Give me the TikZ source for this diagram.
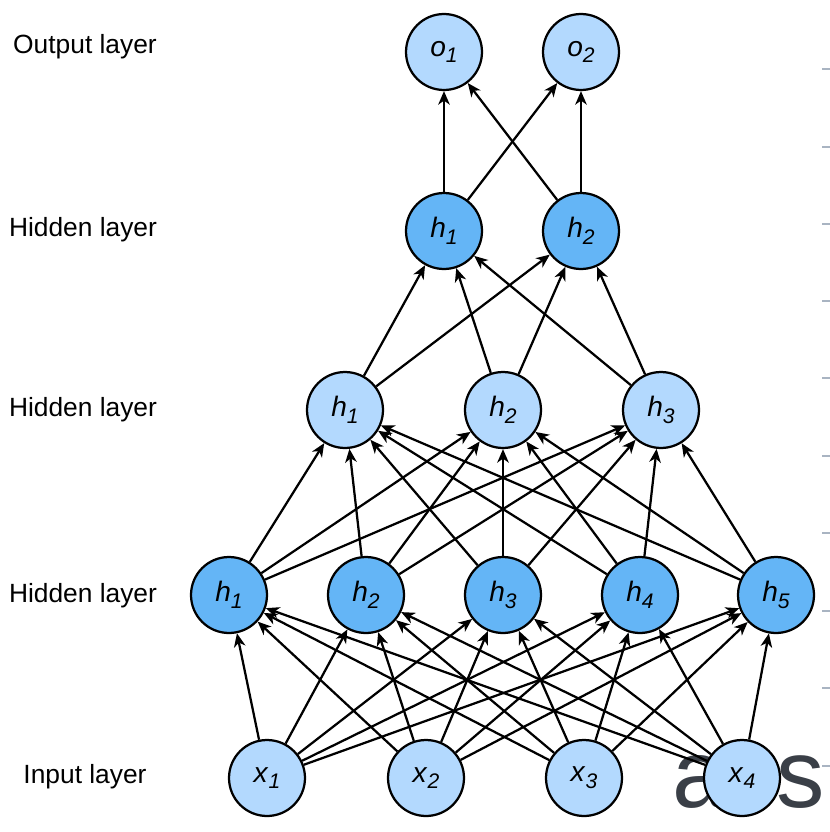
\documentclass[tikz,border=0pt]{standalone}
\usepackage{fontspec}
\setmainfont{Liberation Sans}
\usetikzlibrary{arrows.meta}
\definecolor{nodelight}{HTML}{B3D9FE}
\definecolor{nodedark}{HTML}{64B5F6}
\definecolor{awsgray}{HTML}{3A3F47}
\definecolor{tickgray}{HTML}{A9B4C2}
\newcommand{\nlab}[2]{\textit{#1}\raisebox{-0.45ex}{\fontsize{12}{13}\selectfont\textit{#2}}}
\tikzset{
	neuron/.style={circle, draw, line width=0.45mm, fill=nodelight, minimum size=1.52cm, inner sep=0pt, font=\fontsize{16}{18}\selectfont},
	darkneuron/.style={neuron, fill=nodedark},
	conn/.style={line width=0.45mm, -{Stealth[length=2.7mm,width=2.3mm,inset=0.8mm]}},
	layername/.style={font=\fontsize{15}{18}\selectfont}
}

\begin{document}
\begin{tikzpicture}[x=0.02cm, y=-0.02cm]
			%%%%% START %%%%%
			
			\useasboundingbox (0, 0) rectangle (830, 832);
			
			\node[font=\fontsize{55}{55}\selectfont, color=awsgray, anchor=base] (wa) at (699, 807) {a};
			\node[font=\fontsize{55}{55}\selectfont, color=awsgray, anchor=base] (ws) at (801, 807) {s};
			
			\draw[line width=0.3mm, color=tickgray] (822, 69) -- (830, 69);
			\draw[line width=0.3mm, color=tickgray] (822, 147) -- (830, 147);
			\draw[line width=0.3mm, color=tickgray] (822, 224) -- (830, 224);
			\draw[line width=0.3mm, color=tickgray] (822, 301) -- (830, 301);
			\draw[line width=0.3mm, color=tickgray] (822, 378) -- (830, 378);
			\draw[line width=0.3mm, color=tickgray] (822, 456) -- (830, 456);
			\draw[line width=0.3mm, color=tickgray] (822, 533) -- (830, 533);
			\draw[line width=0.3mm, color=tickgray] (822, 611) -- (830, 611);
			\draw[line width=0.3mm, color=tickgray] (822, 688) -- (830, 688);
			\draw[line width=0.3mm, color=tickgray] (822, 766) -- (830, 766);
			
			\node[layername] (outname) at (85, 47) {Output layer};
			\node[layername] (hidname3) at (83, 230) {Hidden layer};
			\node[layername] (hidname2) at (83, 410) {Hidden layer};
			\node[layername] (hidname1) at (83, 596) {Hidden layer};
			\node[layername] (inname) at (85, 777) {Input layer};
			
			\node[neuron] (o1) at (444, 52) {\nlab{o}{1}};
			\node[neuron] (o2) at (581, 52) {\nlab{o}{2}};
			
			\node[darkneuron] (c1) at (444, 231) {\nlab{h}{1}};
			\node[darkneuron] (c2) at (581, 231) {\nlab{h}{2}};
			
			\node[neuron] (b1) at (345, 410) {\nlab{h}{1}};
			\node[neuron] (b2) at (503, 410) {\nlab{h}{2}};
			\node[neuron] (b3) at (661, 410) {\nlab{h}{3}};
			
			\node[darkneuron] (a1) at (229, 595) {\nlab{h}{1}};
			\node[darkneuron] (a2) at (366, 595) {\nlab{h}{2}};
			\node[darkneuron] (a3) at (503, 595) {\nlab{h}{3}};
			\node[darkneuron] (a4) at (640, 595) {\nlab{h}{4}};
			\node[darkneuron] (a5) at (776, 595) {\nlab{h}{5}};
			
			\node[neuron] (x1) at (267, 778) {\nlab{x}{1}};
			\node[neuron] (x2) at (426, 778) {\nlab{x}{2}};
			\node[neuron] (x3) at (584, 778) {\nlab{x}{3}};
			\node[neuron] (x4) at (742, 778) {\nlab{x}{4}};
			
			% input -> first hidden
			\draw[conn] (x1) -- (a1);
			\draw[conn] (x1) -- (a2);
			\draw[conn] (x1) -- (a3);
			\draw[conn] (x1) -- (a4);
			\draw[conn] (x1) -- (a5);
			\draw[conn] (x2) -- (a1);
			\draw[conn] (x2) -- (a2);
			\draw[conn] (x2) -- (a3);
			\draw[conn] (x2) -- (a4);
			\draw[conn] (x2) -- (a5);
			\draw[conn] (x3) -- (a1);
			\draw[conn] (x3) -- (a2);
			\draw[conn] (x3) -- (a3);
			\draw[conn] (x3) -- (a4);
			\draw[conn] (x3) -- (a5);
			\draw[conn] (x4) -- (a1);
			\draw[conn] (x4) -- (a2);
			\draw[conn] (x4) -- (a3);
			\draw[conn] (x4) -- (a4);
			\draw[conn] (x4) -- (a5);
			
			% first hidden -> second hidden
			\draw[conn] (a1) -- (b1);
			\draw[conn] (a1) -- (b2);
			\draw[conn] (a1) -- (b3);
			\draw[conn] (a2) -- (b1);
			\draw[conn] (a2) -- (b2);
			\draw[conn] (a2) -- (b3);
			\draw[conn] (a3) -- (b1);
			\draw[conn] (a3) -- (b2);
			\draw[conn] (a3) -- (b3);
			\draw[conn] (a4) -- (b1);
			\draw[conn] (a4) -- (b2);
			\draw[conn] (a4) -- (b3);
			\draw[conn] (a5) -- (b1);
			\draw[conn] (a5) -- (b2);
			\draw[conn] (a5) -- (b3);
			
			% second hidden -> third hidden
			\draw[conn] (b1) -- (c1);
			\draw[conn] (b1) -- (c2);
			\draw[conn] (b2) -- (c1);
			\draw[conn] (b2) -- (c2);
			\draw[conn] (b3) -- (c1);
			\draw[conn] (b3) -- (c2);
			
			% third hidden -> output
			\draw[conn] (c1) -- (o1);
			\draw[conn] (c1) -- (o2);
			\draw[conn] (c2) -- (o1);
			\draw[conn] (c2) -- (o2);
			
			%%%%% END %%%%%
\end{tikzpicture}
\end{document}
